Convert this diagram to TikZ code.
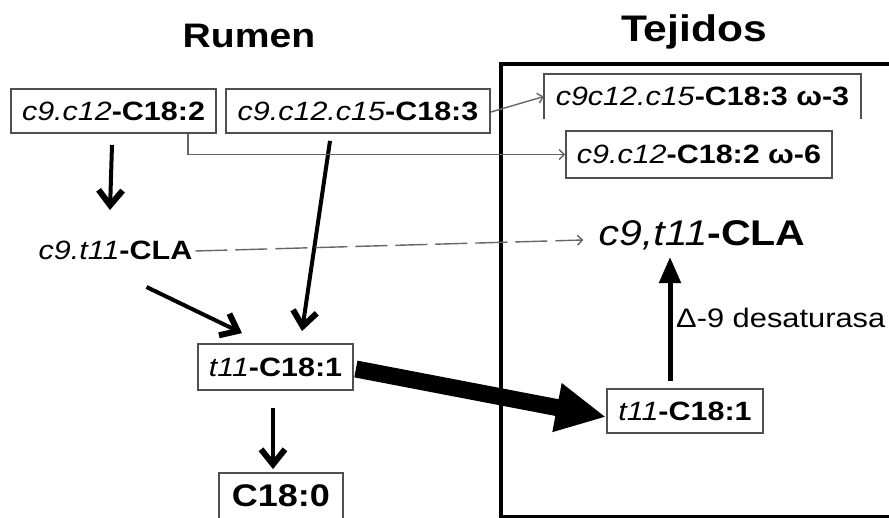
\documentclass[tikz,border=0pt]{standalone}
\usepackage{fontspec}
\setmainfont[FakeStretch=1.15]{Liberation Sans}
\usetikzlibrary{arrows.meta,calc}
\definecolor{boxgray}{HTML}{505050}
\definecolor{linkgray}{HTML}{666666}
\newcommand\fsz[1]{\fontsize{#1}{#1}\selectfont}
\begin{document}
\begin{tikzpicture}[x=1pt,y=-1pt,
  box/.style={draw=boxgray, line width=1.8pt, inner sep=0pt, font=\fsz{26.5}},
  plain/.style={inner sep=0pt, font=\fsz{26.5}},
  title/.style={inner sep=0pt, font=\fsz{34}\bfseries},
  flow/.style={line width=4pt, -{Straight Barb[length=15pt,width=24pt,line width=6pt]}},
  transfer/.style={line width=17pt, -{Triangle[length=50pt,width=46pt]}},
  enzyme/.style={line width=5pt, -{Triangle[length=26pt,width=21pt]}},
  link/.style={draw=linkgray, line width=1.4pt, -{Straight Barb[length=5pt,width=10pt,line width=1.4pt]}},
  dashlink/.style={link, dash pattern=on 32pt off 8pt}]
\useasboundingbox (0,0) rectangle (889,517);

% titles
\node[title, anchor=base] (rumen) at (249,47) {Rumen};
\node[title, font=\fsz{37}\bfseries, anchor=base] (tejidos) at (694,41) {Tejidos};

% tissue compartment
\node[draw, line width=4pt, minimum width=430pt, minimum height=453pt,
      inner sep=0pt, anchor=north west] (tej) at (499,62) {};

% rumen side
\node[box, minimum width=205pt, minimum height=44pt] (n1) at (113.5,111)
  {\textit{c9.c12}\textbf{-C18:2}};
\node[box, minimum width=264pt, minimum height=44pt] (n2) at (358,111)
  {\textit{c9.c12.c15}\textbf{-C18:3}};
\node[plain] (cla1) at (115.5,250) {\textit{c9.t11}\textbf{-CLA}};
\node[box, minimum width=155pt, minimum height=46pt] (t1) at (275.5,367)
  {\textit{t11}\textbf{-C18:1}};
\node[box, font=\fsz{31.3}, minimum width=124pt, minimum height=46pt] (c0) at (281,496)
  {\textbf{C18:0}};

% tissue side
\node[plain, minimum width=317pt, minimum height=45pt] (w3) at (702.5,96.5)
  {\textit{c9c12.c15}\textbf{-C18:3 ω-3}};
\draw[boxgray, line width=1.8pt] (w3.south west) -- (w3.north west)
  -- (w3.north east) -- (w3.south east);
\node[box, minimum width=266pt, minimum height=47pt] (w6) at (699,154.5)
  {\textit{c9.c12}\textbf{-C18:2 ω-6}};
\node[plain, font=\fsz{35.7}] (cla2) at (702,235) {\textit{c9,t11}\textbf{-CLA}};
\node[box, minimum width=156pt, minimum height=44pt] (t2) at (685,411)
  {\textit{t11}\textbf{-C18:1}};
\node[plain, font=\fsz{26.8}, anchor=west] (desat) at (676,318) {Δ-9 desaturasa};

% ruminal pathway
\draw[flow] ($(n1.south)+(-1.5,11)$) -- ($(cla1.center)+(-5.5,-40)$);
\draw[flow] ($(n2.south)+(-28,7)$) -- ($(t1.north)+(26.5,-12)$);
\draw[flow] ($(cla1.center)+(31,37)$) -- ($(t1.north)+(-33.5,-10)$);
\draw[flow] ($(t1.south)+(-2.5,17)$) -- ($(c0.north)+(-8,-3)$);

% transfer to tissues
\draw[transfer] ($(t1.east)+(2,2)$) -- ($(t2.west)+(0,6)$);
\draw[enzyme] ($(t2.north)+(-15,-7)$) -- ($(cla2.center)+(-32,22)$);

% direct passage
\draw[link] ($(n2.east)+(0,1)$) -- (w3.west);
\draw[link] ($(n1.south)+(74.5,0)$) |- (w6.west);
\draw[dashlink] ($(cla1.east)+(3,1)$) -- ($(cla2.west)+(-15,5)$);
\end{tikzpicture}
\end{document}
